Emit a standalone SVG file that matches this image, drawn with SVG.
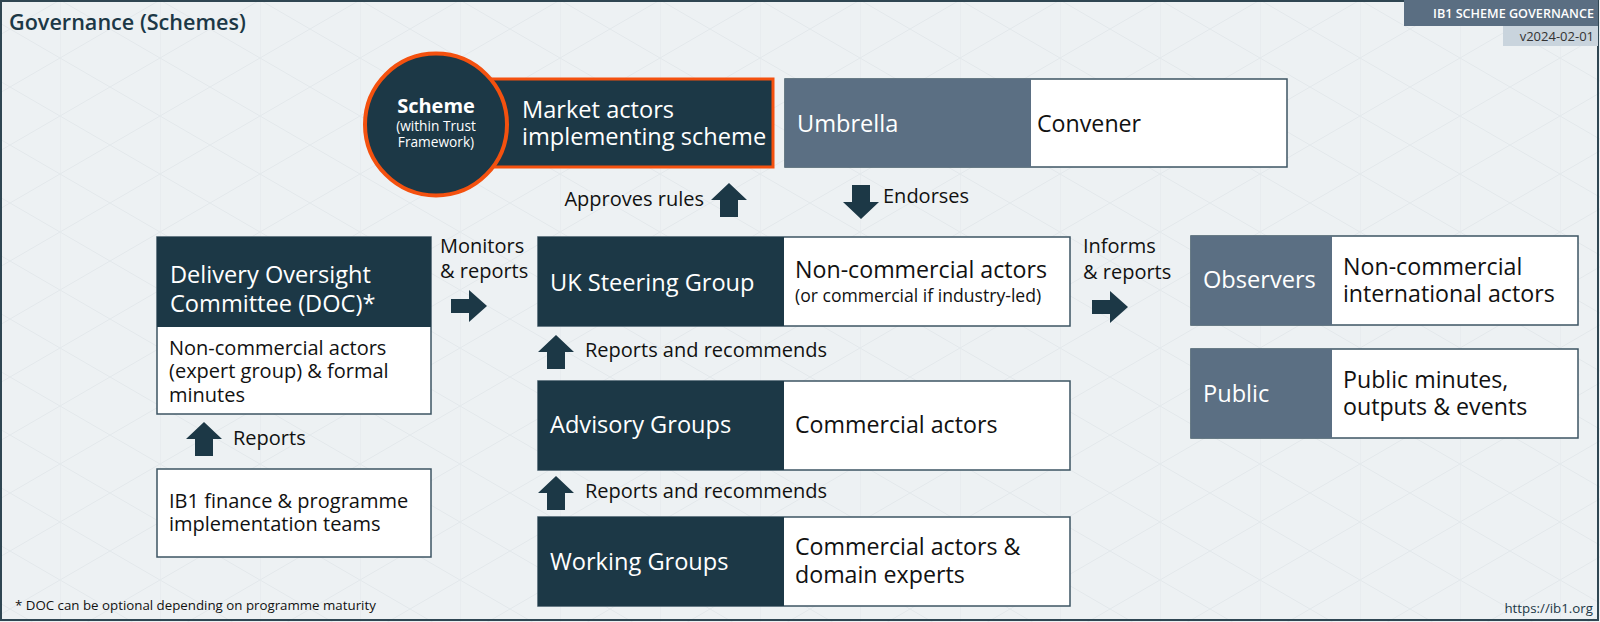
<svg xmlns="http://www.w3.org/2000/svg" width="1600" height="622" viewBox="0 0 1600 622">
<style>
text{font-family:"Open Sans","Noto Sans","DejaVu Sans",sans-serif}
.ttl{font-size:23.6px;fill:#ffffff}
.body{font-size:23.2px;fill:#111111}
.body2{font-size:20px;fill:#111111}
.small{font-size:17.6px;fill:#111111}
.lbl{font-size:20px;fill:#111111}
.dark{fill:#1c3846}
.slate{fill:#5b6f83}
.box{fill:#ffffff;stroke:#3c5463;stroke-width:1.5}
.arr{fill:#1c3846}
</style>
<defs>
<pattern id="bgp" width="100" height="116" patternUnits="userSpaceOnUse" x="60" y="0">
<path d="M0 0V116M0 0L100 58L0 116M100 0L0 58L100 116" fill="none" stroke="#e3e8eb" stroke-width="1"/>
</pattern>
<path id="up" d="M0 17L18 0L36 17H27V34H9V17Z"/>
<path id="right" d="M0 9H18V0L36 16L18 32V23H0Z"/>
</defs>
<rect x="0" y="0" width="1600" height="622" fill="#edf1f3"/>
<rect x="0" y="0" width="1600" height="622" fill="url(#bgp)"/>
<rect x="1" y="1" width="1597" height="619" fill="none" stroke="#2f4652" stroke-width="2"/>

<g id="header">
<text x="9" y="30" style="font-size:21.6px;font-weight:600;fill:#1c3846">Governance (Schemes)</text>
<rect x="1404" y="0" width="194" height="26" fill="#5a6e82"/>
<text x="1594" y="18" text-anchor="end" style="font-size:12.6px;font-weight:600;fill:#ffffff">IB1 SCHEME GOVERNANCE</text>
<rect x="1503" y="26" width="95" height="20" fill="#c9d4dd"/>
<text x="1594" y="41" text-anchor="end" style="font-size:13px;fill:#333333">v2024-02-01</text>
</g>

<g id="scheme">
<rect x="480" y="79" width="293" height="88" fill="#1c3846" stroke="#f4510f" stroke-width="3"/>
<circle cx="436" cy="124.5" r="71" fill="#1c3846" stroke="#f4510f" stroke-width="4"/>
<text x="436" y="113" text-anchor="middle" style="font-size:20px;font-weight:700;fill:#ffffff">Scheme</text>
<text x="436" y="131" text-anchor="middle" style="font-size:13.7px;fill:#ffffff">(within Trust</text>
<text x="436" y="147" text-anchor="middle" style="font-size:13.7px;fill:#ffffff">Framework)</text>
<text x="522" y="118" class="ttl">Market actors</text>
<text x="522" y="145" class="ttl">implementing scheme</text>
</g>

<g id="umbrella">
<rect x="785" y="79" width="502" height="88" class="box"/>
<rect x="785" y="79" width="246" height="88" class="slate"/>
<text x="797" y="132" class="ttl">Umbrella</text>
<text x="1037" y="132" class="body">Convener</text>
</g>

<g id="doc">
<rect x="157" y="237" width="274" height="177" class="box"/>
<rect x="157" y="237" width="274" height="90" class="dark"/>
<text x="170" y="283" class="ttl">Delivery Oversight</text>
<text x="170" y="312" class="ttl">Committee (DOC)*</text>
<text x="169" y="355" class="body2">Non-commercial actors</text>
<text x="169" y="378" class="body2">(expert group) &amp; formal</text>
<text x="169" y="402" class="body2">minutes</text>
</g>

<g id="ib1teams">
<rect x="157" y="469" width="274" height="88" class="box"/>
<text x="169" y="508" class="body2">IB1 finance &amp; programme</text>
<text x="169" y="531" class="body2">implementation teams</text>
</g>

<g id="steering">
<rect x="538" y="237" width="532" height="89" class="box"/>
<rect x="538" y="237" width="246" height="89" class="dark"/>
<text x="550" y="291" class="ttl">UK Steering Group</text>
<text x="795" y="278" class="body">Non-commercial actors</text>
<text x="795" y="302" class="small">(or commercial if industry-led)</text>
</g>

<g id="advisory">
<rect x="538" y="381" width="532" height="89" class="box"/>
<rect x="538" y="381" width="246" height="89" class="dark"/>
<text x="550" y="433" class="ttl">Advisory Groups</text>
<text x="795" y="433" class="body">Commercial actors</text>
</g>

<g id="working">
<rect x="538" y="517" width="532" height="89" class="box"/>
<rect x="538" y="517" width="246" height="89" class="dark"/>
<text x="550" y="570" class="ttl">Working Groups</text>
<text x="795" y="555" class="body">Commercial actors &amp;</text>
<text x="795" y="583" class="body">domain experts</text>
</g>

<g id="observers">
<rect x="1191" y="236" width="387" height="89" class="box"/>
<rect x="1191" y="236" width="141" height="89" class="slate"/>
<text x="1203" y="288" class="ttl">Observers</text>
<text x="1343" y="275" class="body">Non-commercial</text>
<text x="1343" y="302" class="body">international actors</text>
</g>

<g id="public">
<rect x="1191" y="349" width="387" height="89" class="box"/>
<rect x="1191" y="349" width="141" height="89" class="slate"/>
<text x="1203" y="402" class="ttl">Public</text>
<text x="1343" y="388" class="body">Public minutes,</text>
<text x="1343" y="415" class="body">outputs &amp; events</text>
</g>

<g id="connectors">
<use href="#up" x="711" y="183" class="arr"/>
<text x="704" y="206" text-anchor="end" class="lbl">Approves rules</text>
<use href="#up" transform="translate(879 219) rotate(180)" class="arr"/>
<text x="883" y="203" class="lbl">Endorses</text>
<text x="440" y="253" class="lbl">Monitors</text>
<text x="440" y="278" class="lbl">&amp; reports</text>
<use href="#right" x="451" y="290" class="arr"/>
<text x="1083" y="253" class="lbl">Informs</text>
<text x="1083" y="279" class="lbl">&amp; reports</text>
<use href="#right" x="1092" y="291" class="arr"/>
<use href="#up" x="538" y="335" class="arr"/>
<text x="585" y="357" class="lbl">Reports and recommends</text>
<use href="#up" x="538" y="476" class="arr"/>
<text x="585" y="498" class="lbl">Reports and recommends</text>
<use href="#up" x="186" y="422" class="arr"/>
<text x="233" y="445" class="lbl">Reports</text>
</g>

<g id="footer">
<text x="15" y="610" style="font-size:13.3px;fill:#111111">* DOC can be optional depending on programme maturity</text>
<text x="1593" y="613" text-anchor="end" style="font-size:13.3px;fill:#1c3846">https://ib1.org</text>
</g>
</svg>
